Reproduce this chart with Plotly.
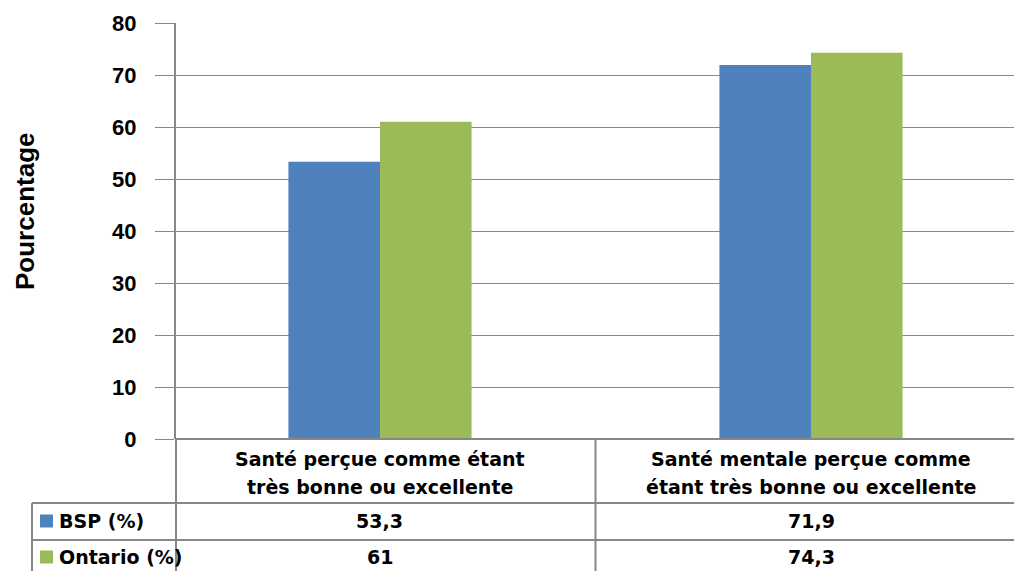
import plotly.graph_objects as go

# ---- data ----
categories = [
    "Santé perçue comme étant<br>très bonne ou excellente",
    "Santé mentale perçue comme<br>étant très bonne ou excellente",
]
series_names = ["BSP (%)", "Ontario (%)"]
bsp_values = [53.3, 71.9]
ontario_values = [61, 74.3]
y_ticks = [0, 10, 20, 30, 40, 50, 60, 70, 80]
y_title = "Pourcentage"

colors = ["#4F81BD", "#9BBB59"]
grid = "#878787"

W, H = 1014, 571
L, R, T, B = 176, 0, 23, 571 - 439
PW, PH = W - L - R, H - T - B


def px_x(x):  # screen pixel -> paper x
    return (x - L) / PW


def px_y(y):  # screen pixel -> paper y
    return (H - B - y) / PH


fig = go.Figure()
for name, vals, col in zip(series_names, [bsp_values, ontario_values], colors):
    fig.add_trace(go.Bar(x=categories, y=vals, name=name, marker_color=col,
                         marker_line_width=0, showlegend=False))

fig.update_layout(
    width=W, height=H,
    margin=dict(l=L, r=R, t=T, b=B, pad=0),
    plot_bgcolor="white", paper_bgcolor="white",
    barmode="group", bargap=0.575, bargroupgap=0,
    font=dict(family="Liberation Sans, Arial, sans-serif", color="black"),
)
fig.update_xaxes(
    type="category", range=[-0.4733, 1.4710], showticklabels=False,
    showgrid=False, zeroline=False, showline=False, ticks="",
)
fig.update_yaxes(
    range=[0, 80], tickvals=y_ticks, showgrid=True, gridcolor=grid, gridwidth=1.3,
    zeroline=False, showline=True, linecolor=grid, linewidth=2,
    ticks="outside", ticklen=19, tickcolor=grid, tickwidth=1.3,
    tickfont=dict(family="Liberation Sans, Arial, sans-serif", size=22, color="black", weight="bold"),
    ticklabelstandoff=14,
)

# y axis title
fig.add_annotation(text="<b>" + y_title + "</b>", xref="paper", yref="paper",
                   x=px_x(25), y=px_y(211), textangle=-90, showarrow=False,
                   xanchor="center", yanchor="middle",
                   font=dict(size=26, family="Liberation Sans, Arial, sans-serif", color="black"))

line = dict(color=grid, width=2)
tfont = dict(family="DejaVu Sans, sans-serif", size=19, color="black", weight="bold")

# table lines
shapes = []
for yy in [439, 503, 540]:
    x0 = 176 if yy == 439 else 32
    shapes.append(dict(type="line", xref="paper", yref="paper",
                       x0=px_x(x0), x1=1, y0=px_y(yy), y1=px_y(yy), line=line))
shapes.append(dict(type="line", xref="paper", yref="paper", x0=0, x1=0,
                   y0=px_y(439), y1=px_y(575), line=line))
shapes.append(dict(type="line", xref="paper", yref="paper", x0=px_x(32), x1=px_x(32),
                   y0=px_y(503), y1=px_y(575), line=line))
shapes.append(dict(type="line", xref="x", yref="paper", x0=0.5, x1=0.5,
                   y0=px_y(439), y1=px_y(575), line=line))
# legend keys
for i, col in enumerate(colors):
    yc = [521, 557][i]
    shapes.append(dict(type="rect", xref="paper", yref="paper",
                       x0=px_x(40), x1=px_x(53), y0=px_y(yc + 6.5), y1=px_y(yc - 6.5),
                       fillcolor=col, line=dict(width=0)))
fig.update_layout(shapes=shapes)

# category labels (two lines each)
for cat in categories:
    for j, part in enumerate(cat.split("<br>")):
        fig.add_annotation(text=part, x=cat, xref="x", yref="paper",
                           y=px_y([459, 487][j]), showarrow=False, font=tfont,
                           xanchor="center", yanchor="middle")

# series rows
for i, (name, vals) in enumerate(zip(series_names, [bsp_values, ontario_values])):
    yc = [521, 557][i]
    fig.add_annotation(text=name, xref="paper", yref="paper", x=px_x(57), y=px_y(yc),
                       showarrow=False, font=tfont, xanchor="left", yanchor="middle")
    for cat, v in zip(categories, vals):
        txt = ("%g" % v).replace(".", ",")
        fig.add_annotation(text=txt, x=cat, xref="x", yref="paper", y=px_y(yc),
                           showarrow=False, font=tfont, xanchor="center", yanchor="middle")

fig.write_html(
    "out.html",
    config={"displayModeBar": False},
    post_script="document.body.style.margin='0';document.body.style.overflow='hidden';",
)
